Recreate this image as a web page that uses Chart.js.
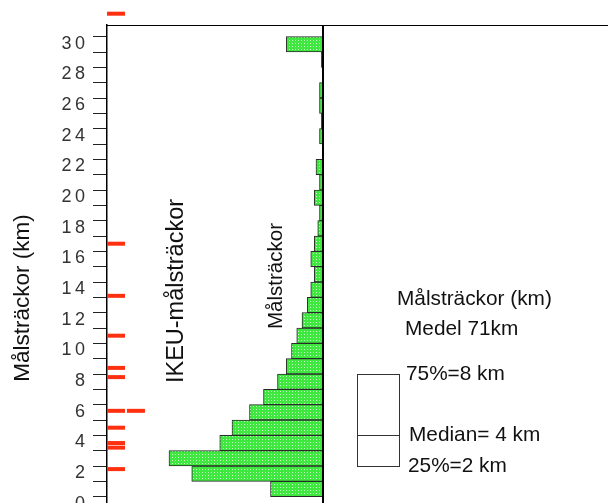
<!DOCTYPE html>
<html>
<head>
<meta charset="utf-8">
<script src="https://cdn.jsdelivr.net/npm/chart.js@4.4.1/dist/chart.umd.min.js"></script>
<style>
  html, body { margin: 0; padding: 0; background: #fff; }
  #wrap { width: 608px; height: 503px; }
</style>
</head>
<body>
<div id="wrap"><canvas id="malChart" width="608" height="503"></canvas></div>
<script>
// Histogram över målsträckor: nedre kant på varje 1 km-klass och antal mål i klassen
const klassKm = [0, 1, 2, 3, 4, 5, 6, 7, 8, 9, 10, 11, 12, 13, 14, 15, 16, 17, 18, 19, 20, 21, 22, 23, 24, 25, 26, 27, 28, 29];
const antal   = [30, 75, 88, 59, 52, 42, 34, 26, 21, 18, 15, 12, 9, 7, 5, 7, 5, 3, 2, 5, 2, 4, 0, 2, 1, 2, 2, 0, 1, 21];

// IKEU-målsträckor (km), en streckmarkering per mål
const ikeuKm = [1.8, 3.2, 3.5, 4.5, 5.6, 5.6, 7.8, 8.4, 10.5, 13.1, 16.5, 31.5];

// Kvartiler och medel för målsträckorna
const kvartilKm   = [2, 4, 8];
const kvartilText = ['25%=2 km', 'Median= 4 km', '75%=8 km'];
const medelKm = 71;

// Y-axelns etiketter (varannan km)
const yEtiketter = [0, 2, 4, 6, 8, 10, 12, 14, 16, 18, 20, 22, 24, 26, 28, 30];

const TEXT = '"Liberation Sans", Helvetica, Arial, sans-serif';
const IKEU_X = 118.3;      // kolumnens läge på x-skalan
const IKEU_STEG = 11.4;    // förskjutning för dubbletter

const canvas = document.getElementById('malChart');
const ctx = canvas.getContext('2d');

function gronMonster() {
    const c = document.createElement('canvas');
    c.width = 3; c.height = 3;
    const g = c.getContext('2d');
    g.fillStyle = '#3fe83f';
    g.fillRect(0, 0, 3, 3);
    g.fillStyle = '#c8fbc8';
    g.fillRect(1, 1, 1, 1);
    return ctx.createPattern(c, 'repeat');
}

// dubbletter läggs bredvid varandra
const sedda = {};
const ikeuPunkter = ikeuKm.map(km => {
    const n = sedda[km] || 0;
    sedda[km] = n + 1;
    return { x: IKEU_X - n * IKEU_STEG, y: km };
});

const ramPlugin = {
    id: 'ram',
    afterDatasetsDraw(chart) {
        const { ctx, chartArea: a, scales: { x } } = chart;
        ctx.save();
        // nollinje för staplarna
        const x0 = Math.round(x.getPixelForValue(0));
        ctx.strokeStyle = '#000';
        ctx.lineWidth = 2;
        ctx.beginPath();
        ctx.moveTo(x0, a.top);
        ctx.lineTo(x0, a.bottom);
        ctx.stroke();
        // övre ram
        ctx.lineWidth = 1;
        ctx.beginPath();
        ctx.moveTo(a.left, a.top + 0.5);
        ctx.lineTo(a.right, a.top + 0.5);
        ctx.stroke();
        ctx.restore();
    },
    afterDraw(chart) {
        const { ctx, scales: { y } } = chart;
        ctx.save();
        ctx.fillStyle = '#111';
        ctx.textBaseline = 'middle';

        const lodrat = (text, cx, cy, size) => {
            ctx.save();
            ctx.translate(cx, cy);
            ctx.rotate(-Math.PI / 2);
            ctx.textAlign = 'center';
            ctx.font = size + 'px ' + TEXT;
            ctx.fillText(text, 0, 0);
            ctx.restore();
        };
        lodrat('Målsträckor (km)', 23, 298, 22.5);
        lodrat('IKEU-målsträckor', 177, 291, 23.5);
        lodrat('Målsträckor', 276, 276, 20.5);

        ctx.textAlign = 'left';
        ctx.font = '20.8px ' + TEXT;
        ctx.fillText('Målsträckor (km)', 397, 299);
        ctx.fillText('Medel ' + medelKm + 'km', 405, 329);

        // låddiagram för kvartilerna
        const yq1 = Math.round(y.getPixelForValue(kvartilKm[0])) + 0.5;
        const ymed = Math.round(y.getPixelForValue(kvartilKm[1])) + 0.5;
        const yq3 = Math.round(y.getPixelForValue(kvartilKm[2])) + 0.5;
        ctx.strokeStyle = '#333';
        ctx.lineWidth = 1;
        ctx.strokeRect(357.5, yq3, 42, yq1 - yq3);
        ctx.beginPath();
        ctx.moveTo(357.5, ymed);
        ctx.lineTo(399.5, ymed);
        ctx.stroke();

        const textX = [408, 409, 406];
        kvartilKm.forEach((km, i) => {
            ctx.fillText(kvartilText[i], textX[i], y.getPixelForValue(km));
        });
        ctx.restore();
    }
};

new Chart(ctx, {
    type: 'bar',
    data: {
        datasets: [{
            type: 'bar',
            data: klassKm.map((k, i) => ({ y: k + 0.5, x: antal[i] })),
            backgroundColor: gronMonster(),
            borderColor: '#2a2a2a',
            borderWidth: 1,
            borderSkipped: 'start',
            barPercentage: 1,
            categoryPercentage: 1
        }, {
            type: 'scatter',
            data: ikeuPunkter,
            pointStyle: 'line',
            pointRadius: 9,
            pointBorderWidth: 4,
            borderColor: '#ff3010',
            pointBorderColor: '#ff3010',
            clip: false
        }]
    },
    options: {
        indexAxis: 'y',
        responsive: false,
        animation: false,
        devicePixelRatio: 1,
        events: [],
        layout: { autoPadding: false, padding: { top: 25, left: 0, right: 0, bottom: 0 } },
        plugins: { legend: { display: false }, tooltip: { enabled: false } },
        scales: {
            x: {
                type: 'linear',
                display: false,
                reverse: true,
                min: -162.86,
                max: 123.43
            },
            y: {
                type: 'linear',
                min: -0.411,
                max: 30.763,
                offset: false,
                afterFit: s => {
                    s.width = 107;
                    s.paddingTop = 0; s.paddingBottom = 0;
                    s.paddingLeft = 0; s.paddingRight = 0;
                },
                grid: { drawOnChartArea: false, drawTicks: true, tickLength: 14, color: '#222', lineWidth: 1, offset: false },
                border: { display: true, color: '#000', width: 1.5 },
                ticks: {
                    stepSize: 1,
                    autoSkip: false,
                    includeBounds: false,
                    padding: 8,
                    labelOffset: 7,
                    color: '#333',
                    font: { family: TEXT, size: 18 },
                    callback: v => yEtiketter.includes(v) ? String(v).split('').join('\u2009') : ''
                }
            }
        }
    },
    plugins: [ramPlugin]
});
</script>
</body>
</html>
